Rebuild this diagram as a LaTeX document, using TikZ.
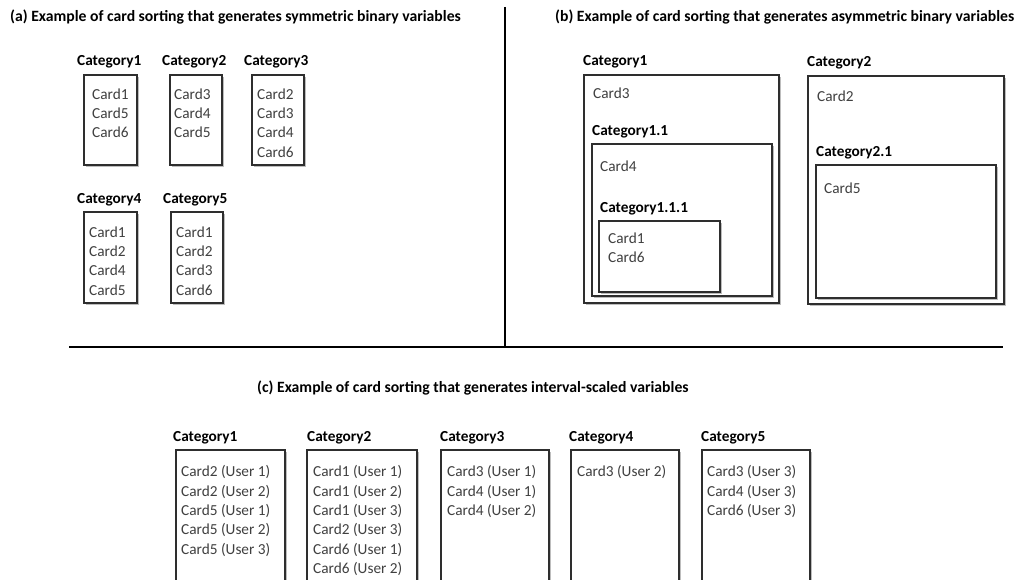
\documentclass[tikz,border=0pt]{standalone}
\usepackage{fontspec}
\setmainfont{Carlito}
\usetikzlibrary{shadows}
\begin{document}
\begin{tikzpicture}[x=1pt,y=-1pt,
  catbox/.style={draw=black!82, line width=1.1pt, fill=white, inner sep=0pt, outer sep=0pt, anchor=north west,
    drop shadow={shadow xshift=1.8pt, shadow yshift=-1.8pt, opacity=0.4, fill=black!65}},
  cardtxt/.style={anchor=north west, inner sep=0pt, align=left, text=black!75, font=\fontsize{15.3}{19.3}\selectfont},
  catlbl/.style={anchor=base west, inner sep=0pt, font=\fontsize{15.3}{19.3}\selectfont\bfseries, text=black},
  titletxt/.style={anchor=base west, inner sep=0pt, font=\fontsize{15.7}{18}\selectfont\bfseries, text=black},
  sepline/.style={line width=2pt, black}]
\useasboundingbox (0,0) rectangle (1020,580);
\clip (0,0) rectangle (1020,580);
% separators
\coordinate (vtop) at (505,7);
\coordinate (vbot) at (505,347);
\coordinate (hl) at (69,347);
\coordinate (hr) at (1003,347);
\draw[sepline] (vtop) -- (vbot);
\draw[sepline] (hl) -- (hr);
% titles
\node[titletxt] (ta) at (10,22) {(a) Example of card sorting that generates symmetric binary variables};
\node[titletxt] (tb) at (555,22) {(b) Example of card sorting that generates asymmetric binary variables};
\node[titletxt] (tc) at (257,392) {(c) Example of card sorting that generates interval-scaled variables};
% ---- (a)
\node[catlbl] (aL1) at (77,66) {Category1};
\node[catlbl] (aL2) at (162,66) {Category2};
\node[catlbl] (aL3) at (244,66) {Category3};
\node[catlbl] (aL4) at (77,204) {Category4};
\node[catlbl] (aL5) at (163,204) {Category5};
\node[catbox, minimum width=53pt, minimum height=90pt] (aB1) at (84,75) {};
\node[catbox, minimum width=52pt, minimum height=90pt] (aB2) at (170,75) {};
\node[catbox, minimum width=52pt, minimum height=90pt] (aB3) at (252,75) {};
\node[catbox, minimum width=53pt, minimum height=91pt] (aB4) at (84,212) {};
\node[catbox, minimum width=52pt, minimum height=91pt] (aB5) at (171,212) {};
\node[cardtxt] (aT1) at (92,88.5) {Card1\\Card5\\Card6};
\node[cardtxt] (aT2) at (174,88.5) {Card3\\Card4\\Card5};
\node[cardtxt] (aT3) at (257,88.5) {Card2\\Card3\\Card4\\Card6};
\node[cardtxt] (aT4) at (89,226.5) {Card1\\Card2\\Card4\\Card5};
\node[cardtxt] (aT5) at (176,226.5) {Card1\\Card2\\Card3\\Card6};
% ---- (b)
\node[catlbl] (bL1) at (583,66) {Category1};
\node[catbox, minimum width=195pt, minimum height=228pt] (bB1) at (584,75) {};
\node[cardtxt] (bT1) at (593,87.5) {Card3};
\node[catlbl] (bL11) at (592,136) {Category1.1};
\node[catbox, minimum width=180pt, minimum height=152pt] (bB11) at (592,144) {};
\node[cardtxt] (bT11) at (600,160.5) {Card4};
\node[catlbl] (bL111) at (600,213) {Category1.1.1};
\node[catbox, minimum width=121pt, minimum height=71pt] (bB111) at (599,221) {};
\node[cardtxt] (bT111) at (608,232.5) {Card1\\Card6};
\node[catlbl] (bL2) at (807,67) {Category2};
\node[catbox, minimum width=196pt, minimum height=228pt] (bB2) at (808,76) {};
\node[cardtxt] (bT2) at (817,90.5) {Card2};
\node[catlbl] (bL21) at (816,157) {Category2.1};
\node[catbox, minimum width=180pt, minimum height=133pt] (bB21) at (816,165) {};
\node[cardtxt] (bT21) at (824,182.5) {Card5};
% ---- (c)
\node[catlbl] (cL1) at (173,441) {Category1};
\node[catlbl] (cL2) at (307,441) {Category2};
\node[catlbl] (cL3) at (440,441) {Category3};
\node[catlbl] (cL4) at (569,441) {Category4};
\node[catlbl] (cL5) at (701,441) {Category5};
\node[catbox, minimum width=109pt, minimum height=160pt] (cB1) at (176,450) {};
\node[catbox, minimum width=110pt, minimum height=160pt] (cB2) at (307,450) {};
\node[catbox, minimum width=108pt, minimum height=160pt] (cB3) at (441,450) {};
\node[catbox, minimum width=108pt, minimum height=160pt] (cB4) at (571,450) {};
\node[catbox, minimum width=108pt, minimum height=160pt] (cB5) at (702,450) {};
\node[cardtxt] (cT1) at (181,465.5) {Card2 (User 1)\\Card2 (User 2)\\Card5 (User 1)\\Card5 (User 2)\\Card5 (User 3)};
\node[cardtxt] (cT2) at (313,465.5) {Card1 (User 1)\\Card1 (User 2)\\Card1 (User 3)\\Card2 (User 3)\\Card6 (User 1)\\Card6 (User 2)};
\node[cardtxt] (cT3) at (447,465.5) {Card3 (User 1)\\Card4 (User 1)\\Card4 (User 2)};
\node[cardtxt] (cT4) at (577,465.5) {Card3 (User 2)};
\node[cardtxt] (cT5) at (707,465.5) {Card3 (User 3)\\Card4 (User 3)\\Card6 (User 3)};
\end{tikzpicture}
\end{document}
